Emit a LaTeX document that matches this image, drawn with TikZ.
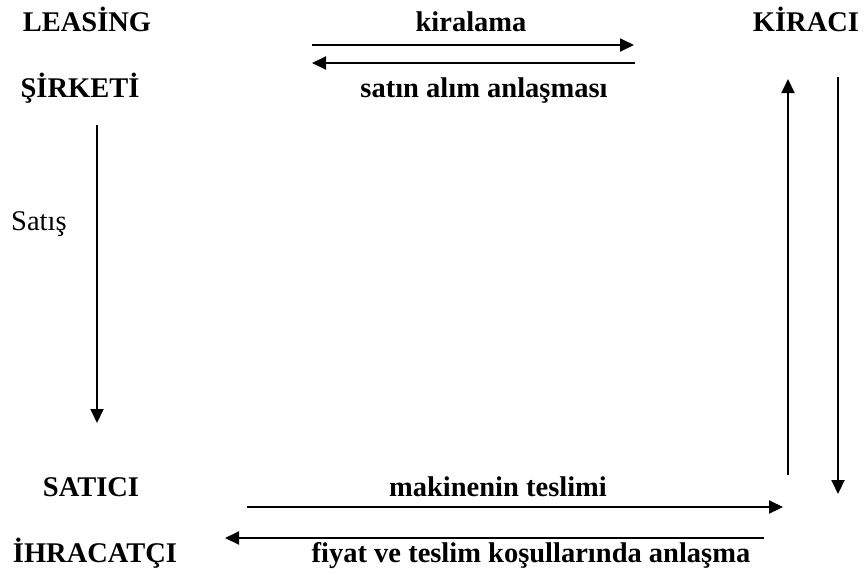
\documentclass[tikz,border=0pt]{standalone}
\usepackage{fontspec}
\setmainfont{Liberation Serif}
\usetikzlibrary{arrows.meta}
\begin{document}
\begin{tikzpicture}[x=1pt,y=-1pt,
  lbl/.style={font=\fontsize{28.5}{32}\selectfont\bfseries, inner sep=0pt, anchor=base},
  plain/.style={font=\fontsize{28.5}{32}\selectfont, inner sep=0pt, anchor=base west},
  arr/.style={line width=2pt, -{Triangle[length=14pt,width=13pt]}}]
\useasboundingbox (0,0) rectangle (864,574);
% texts
\node[lbl] (leasing) at (87,31) {LEASİNG};
\node[lbl] (kiralama) at (471,31) {kiralama};
\node[lbl] (kiraci) at (806,31) {KİRACI};
\node[lbl] (sirketi) at (80,97) {ŞİRKETİ};
\node[lbl] (satinalim) at (484,97) {satın alım anlaşması};
\node[plain] (satis) at (11,230) {Satış};
\node[lbl] (satici) at (91,496) {SATICI};
\node[lbl] (makine) at (498,496) {makinenin teslimi};
\node[lbl] (ihracatci) at (95,562) {İHRACATÇI};
\node[lbl] (fiyat) at (531,562) {fiyat ve teslim koşullarında anlaşma};
% arrow endpoints
\coordinate (k1) at (312,45);  \coordinate (k2) at (634,45);
\coordinate (s1) at (635,63);  \coordinate (s2) at (312,63);
\coordinate (v1) at (97,125);  \coordinate (v2) at (97,423);
\coordinate (u1) at (788,475); \coordinate (u2) at (788,79);
\coordinate (d1) at (838,77);  \coordinate (d2) at (838,494);
\coordinate (m1) at (247,507); \coordinate (m2) at (783,507);
\coordinate (f1) at (764,538); \coordinate (f2) at (225,538);
\draw[arr] (k1) -- (k2);
\draw[arr] (s1) -- (s2);
\draw[arr] (v1) -- (v2);
\draw[arr] (u1) -- (u2);
\draw[arr] (d1) -- (d2);
\draw[arr] (m1) -- (m2);
\draw[arr] (f1) -- (f2);
\end{tikzpicture}
\end{document}
